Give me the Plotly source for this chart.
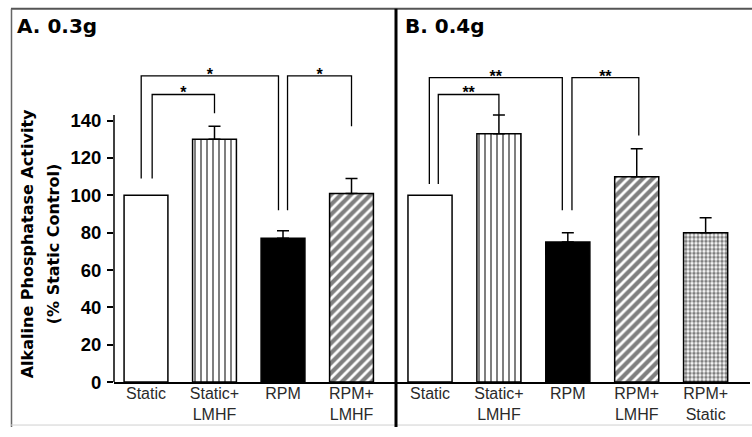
import plotly.graph_objects as go

# ---------------- data ----------------
cats_a = ["Static", "Static+<br>LMHF", "RPM", "RPM+<br>LMHF"]
vals_a = [100, 130, 77, 101]
err_a = [0, 7, 4, 8]

cats_b = ["Static", "Static+<br>LMHF", "RPM", "RPM+<br>LMHF", "RPM+<br>Static"]
vals_b = [100, 133, 75, 110, 80]
err_b = [0, 10, 5, 15, 8]

y_ticks = [0, 20, 40, 60, 80, 100, 120, 140]

# significance brackets: (from bar, to bar, bracket level, left leg end, right leg end, label)
brackets_a = [(0, 1, 154, 109, 144, "*"), (0, 2, 164, 109, 92, "*"), (2, 3, 164, 92, 137, "*")]
brackets_b = [(0, 1, 154, 106, 143, "**"), (0, 2, 163, 106, 92, "**"), (2, 3, 163, 92, 132, "**")]

title_a = "A. 0.3g"
title_b = "B. 0.4g"
ylabel_1 = "Alkaline Phosphatase Activity"
ylabel_2 = "(% Static Control)"

# ---------------- styles ----------------
W, H = 752, 437
FONT = "Liberation Sans, Arial, sans-serif"
BOLD = "DejaVu Sans, Liberation Sans, sans-serif"
fills = ["white", "white", "black", "white", "white"]
shapes_pat = ["", "|", "", "/", "."]
pat_size = [6, 6, 6, 7, 4]
pat_sol = [0.3, 0.34, 0.3, 0.6, 0.6]
# horizontal leg offsets (in category units) for [left leg, right leg] of each bracket
leg_off_a = [(0.09, 0.0), (-0.07, -0.066), (0.066, 0.0)]
leg_off_b = [(0.12, 0.0), (-0.01, -0.08), (0.06, 0.03)]

Y_BOTTOM_PX = 391
PX_PER_UNIT = 1.911
Y_MAX = 175
y_dom = [1 - Y_BOTTOM_PX / H, 1 - (Y_BOTTOM_PX - Y_MAX * PX_PER_UNIT) / H]

fig = go.Figure()


def add_panel(cats, vals, errs, brackets, offs, xa, ya, stars_size):
    for k, (v, e) in enumerate(zip(vals, errs)):
        marker = dict(color=fills[k], line=dict(color="black", width=1.5))
        if shapes_pat[k]:
            marker["pattern"] = dict(shape=shapes_pat[k], fgcolor="black", bgcolor=fills[k],
                                     size=pat_size[k], solidity=pat_sol[k])
        fig.add_trace(go.Bar(
            x=[k], y=[v], width=0.64, xaxis=xa, yaxis=ya, marker=marker,
            error_y=dict(type="data", array=[e], arrayminus=[0], symmetric=False,
                         color="black", thickness=1.5, width=6, visible=e > 0),
            showlegend=False, hoverinfo="skip"))
    for (i, j, lvl, ld, rd, lab), (ol, orr) in zip(brackets, offs):
        xl, xr = i + ol, j + orr
        fig.add_trace(go.Scatter(
            x=[xl, xl, xr, xr], y=[ld, lvl, lvl, rd], mode="lines",
            line=dict(color="black", width=1.3), xaxis=xa, yaxis=ya,
            showlegend=False, hoverinfo="skip"))
        fig.add_trace(go.Scatter(
            x=[(xl + xr) / 2], y=[lvl], mode="text", text=[lab],
            textposition="middle center", cliponaxis=False,
            textfont=dict(family=FONT, size=stars_size, color="black", weight="bold"),
            xaxis=xa, yaxis=ya, showlegend=False, hoverinfo="skip"))


add_panel(cats_a, vals_a, err_a, brackets_a, leg_off_a, "x", "y", 16)
add_panel(cats_b, vals_b, err_b, brackets_b, leg_off_b, "x2", "y2", 16)

xa_common = dict(showline=True, linecolor="black", linewidth=1.5, ticks="",
                 showgrid=False, zeroline=False, ticklabelstandoff=-4,
                 tickfont=dict(family=FONT, size=16, color="#2a2a2a"))

fig.update_layout(
    width=W, height=H, autosize=False,
    margin=dict(l=0, r=0, t=0, b=0),
    paper_bgcolor="white", plot_bgcolor="rgba(0,0,0,0)",
    barmode="overlay",
    xaxis=dict(domain=[114 / W, 397 / W], range=[-0.467, 3.664], anchor="y",
               tickvals=list(range(len(cats_a))), ticktext=cats_a, **xa_common),
    xaxis2=dict(domain=[380 / W, 750 / W], range=[-0.726, 4.644], anchor="y2",
                tickvals=list(range(len(cats_b))), ticktext=cats_b, **xa_common),
    yaxis=dict(domain=y_dom, range=[0, Y_MAX], anchor="x", showline=False,
               showgrid=False, zeroline=False, ticks="outside", ticklen=6,
               tickwidth=1.5, tickcolor="black", tickvals=y_ticks, ticklabelstandoff=2,
               tickfont=dict(family=FONT, size=18.5, color="black", weight="bold")),
    yaxis2=dict(domain=y_dom, range=[0, Y_MAX], anchor="x2", showline=False,
                showgrid=False, zeroline=False, showticklabels=False, ticks=""),
)

# y axis line up to the top tick region
fig.add_shape(type="line", xref="x domain", yref="y", x0=0, x1=0, y0=0, y1=143,
              line=dict(color="black", width=1.5))

# panel frames
fig.add_shape(type="line", xref="paper", yref="paper", x0=11 / W, x1=1, y0=1 - 9 / H, y1=1 - 9 / H,
              line=dict(color="#555555", width=2))
fig.add_shape(type="line", xref="paper", yref="paper", x0=11.5 / W, x1=11.5 / W, y0=0, y1=1 - 9 / H,
              line=dict(color="#666666", width=1.5))
fig.add_shape(type="line", xref="paper", yref="paper", x0=11 / W, x1=1, y0=1 - 435 / H, y1=1 - 435 / H,
              line=dict(color="#d0d0d0", width=1))
fig.add_shape(type="line", xref="paper", yref="paper", x0=396 / W, x1=396 / W, y0=0, y1=1 - 9 / H,
              line=dict(color="black", width=3))

# titles and axis label
for txt, xpx in [(title_a, 15), (title_b, 403)]:
    fig.add_annotation(text=txt, xref="paper", yref="paper", x=xpx / W, y=1 - 27 / H,
                       xanchor="left", yanchor="middle", showarrow=False,
                       font=dict(family=BOLD, size=20, color="black", weight="bold"))
for txt, xpx in [(ylabel_1, 27), (ylabel_2, 53)]:
    fig.add_annotation(text=txt, xref="paper", yref="paper", x=xpx / W, y=1 - 250 / H,
                       xanchor="center", yanchor="middle", textangle=-90, showarrow=False,
                       font=dict(family=BOLD, size=16, color="black", weight="bold"))

fig.write_html("out.html", config={"displayModeBar": False},
               post_script="document.body.style.margin='0';document.body.style.overflow='hidden';")
